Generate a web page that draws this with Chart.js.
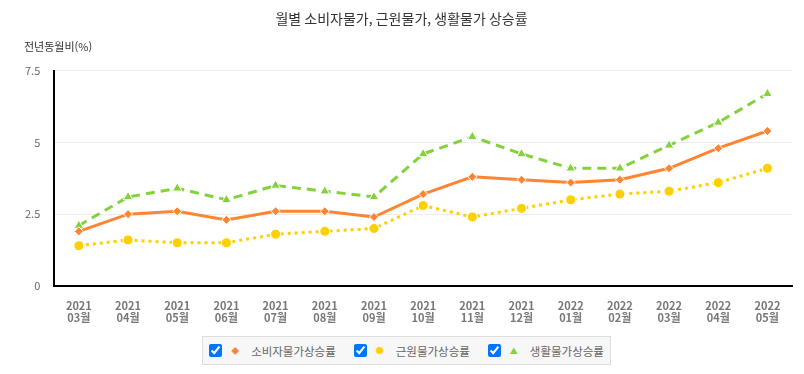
<!DOCTYPE html>
<html lang="ko">
<head>
<meta charset="UTF-8">
<title>월별 소비자물가, 근원물가, 생활물가 상승률</title>
<script src="https://cdn.jsdelivr.net/npm/chart.js"></script>
<style>
  body { margin: 0; padding: 0; background: #fff; font-family: "Noto Sans CJK KR", sans-serif; }
  .wrap { width: 804px; height: 374px; position: relative; }
  .chartBox { width: 804px; height: 338px; position: relative; }
  #legend { position: absolute; left: 202px; top: 336px; width: 407px; height: 27px; background: #f7f7f7; border: 1px solid #ddd;
            display: flex; align-items: center; justify-content: center; font-size: 11.5px; color: #666; white-space: nowrap; }
  #legend label { display: flex; align-items: center; margin: 0 9px; white-space: nowrap; }
  #legend input { margin: 0 8px 0 0; width: 13px; height: 13px; }
  #legend .mk { display: inline-block; width: 10px; text-align: center; margin-right: 11px; font-size: 8px; }
</style>
</head>
<body>
<div class="wrap">
  <div class="chartBox"><canvas id="priceChart"></canvas></div>
  <div id="legend"></div>
</div>
<script>
const months = [
  ['2021', '03월'], ['2021', '04월'], ['2021', '05월'], ['2021', '06월'], ['2021', '07월'],
  ['2021', '08월'], ['2021', '09월'], ['2021', '10월'], ['2021', '11월'], ['2021', '12월'],
  ['2022', '01월'], ['2022', '02월'], ['2022', '03월'], ['2022', '04월'], ['2022', '05월']
];
const seriesNames = ['소비자물가상승률', '근원물가상승률', '생활물가상승률'];
const consumer = [1.9, 2.5, 2.6, 2.3, 2.6, 2.6, 2.4, 3.2, 3.8, 3.7, 3.6, 3.7, 4.1, 4.8, 5.4];
const core     = [1.4, 1.6, 1.5, 1.5, 1.8, 1.9, 2.0, 2.8, 2.4, 2.7, 3.0, 3.2, 3.3, 3.6, 4.1];
const living   = [2.1, 3.1, 3.4, 3.0, 3.5, 3.3, 3.1, 4.6, 5.2, 4.6, 4.1, 4.1, 4.9, 5.7, 6.7];
const yTicks = [0, 2.5, 5, 7.5];

const colors = ['#ff8533', '#ffd000', '#82d23c'];

// y축 제목 (가로로 축 위에 표시)
const yTitlePlugin = {
  id: 'yTitle',
  afterDraw(chart) {
    const ctx = chart.ctx;
    ctx.save();
    ctx.font = '11px "Noto Sans CJK KR", sans-serif';
    ctx.fillStyle = '#333';
    ctx.textBaseline = 'middle';
    ctx.textAlign = 'left';
    ctx.fillText('전년동월비(%)', 24, 47);
    ctx.restore();
  }
};

const ctx = document.getElementById('priceChart').getContext('2d');
const chart = new Chart(ctx, {
  type: 'line',
  data: {
    labels: months,
    datasets: [
      {
        label: seriesNames[0], data: consumer,
        borderColor: colors[0], backgroundColor: colors[0],
        borderWidth: 3, pointStyle: 'rectRot', pointRadius: 4.5,
        pointBorderColor: '#fff', pointBorderWidth: 1
      },
      {
        label: seriesNames[1], data: core,
        borderColor: colors[1], backgroundColor: colors[1],
        borderWidth: 3, borderDash: [3, 4], pointStyle: 'circle', pointRadius: 5,
        pointBorderColor: '#fff', pointBorderWidth: 1
      },
      {
        label: seriesNames[2], data: living,
        borderColor: colors[2], backgroundColor: colors[2],
        borderWidth: 3, borderDash: [9, 6], pointStyle: 'triangle', pointRadius: 5.5,
        pointBorderColor: '#fff', pointBorderWidth: 1
      }
    ]
  },
  options: {
    responsive: true,
    maintainAspectRatio: false,
    animation: false,
    layout: { padding: { left: 11, right: 12, top: 0, bottom: 0 } },
    plugins: {
      legend: { display: false },
      tooltip: { enabled: false },
      title: {
        display: true,
        text: '월별 소비자물가, 근원물가, 생활물가 상승률',
        color: '#333',
        font: { size: 14, weight: 'normal', family: '"Noto Sans CJK KR", sans-serif' },
        padding: { top: 10, bottom: 44 }
      }
    },
    scales: {
      x: {
        offset: true,
        grid: { display: false, drawTicks: false },
        border: { color: '#000', width: 2 },
        ticks: {
          color: '#777', padding: 14, maxRotation: 0, autoSkip: false,
          font: { size: 11, weight: 'bold', family: '"Noto Sans CJK KR", sans-serif', lineHeight: 1.1 }
        }
      },
      y: {
        min: 0, max: 7.5,
        afterBuildTicks(axis) { axis.ticks = yTicks.map(v => ({ value: v })); },
        grid: { color: '#ececec', drawTicks: false },
        border: { color: '#000', width: 2 },
        ticks: {
          color: '#666', padding: 14,
          font: { size: 11, family: '"Noto Sans CJK KR", sans-serif' }
        }
      }
    }
  },
  plugins: [yTitlePlugin]
});

// HTML 범례 (체크박스)
const marks = ['◆', '●', '▲'];
const legendEl = document.getElementById('legend');
seriesNames.forEach((name, i) => {
  const lab = document.createElement('label');
  const cb = document.createElement('input');
  cb.type = 'checkbox';
  cb.checked = true;
  cb.onchange = () => { chart.setDatasetVisibility(i, cb.checked); chart.update(); };
  const mk = document.createElement('span');
  mk.className = 'mk';
  mk.style.color = colors[i];
  mk.textContent = marks[i];
  lab.appendChild(cb);
  lab.appendChild(mk);
  lab.appendChild(document.createTextNode(name));
  legendEl.appendChild(lab);
});
</script>
</body>
</html>
